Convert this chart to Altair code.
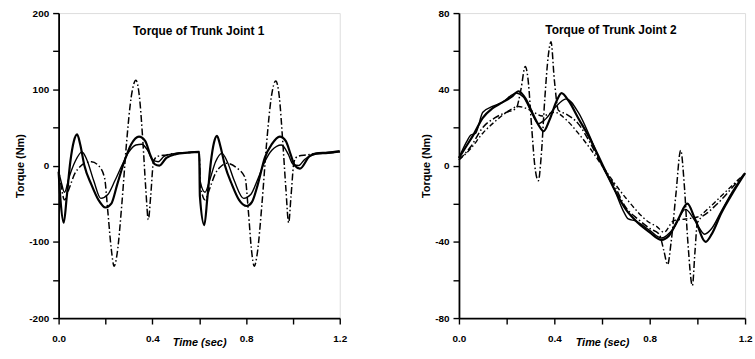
import altair as alt
import pandas as pd

FONT = "Liberation Sans"

TITLE_1 = "Torque of Trunk Joint 1"
TITLE_2 = "Torque of Trunk Joint 2"
X_TITLE = "Time (sec)"
Y_TITLE = "Torque (Nm)"

X_TICKS = [0.0, 0.2, 0.4, 0.6, 0.8, 1.0, 1.2]
Y1_TICKS = [-200, -150, -100, -50, 0, 50, 100, 150, 200]
Y2_TICKS = [-80, -60, -40, -20, 0, 20, 40, 60, 80]

# ---- Joint 1 ----
t_j1_thick = [0.0, 0.008, 0.022, 0.035, 0.05, 0.065, 0.079, 0.092, 0.11, 0.14, 0.17, 0.2, 0.225, 0.25, 0.28,
              0.31, 0.343, 0.37, 0.39, 0.41, 0.43, 0.46, 0.5, 0.55, 0.6,
              0.603, 0.622, 0.635, 0.65, 0.663, 0.676, 0.69, 0.71, 0.74, 0.77, 0.803, 0.825, 0.85, 0.88,
              0.91, 0.944, 0.97, 0.99, 1.008, 1.03, 1.07, 1.1, 1.15, 1.2]
v_j1_thick = [-8, -45, -75, -40, 5, 32, 41, 28, 0, -25, -45, -55, -50, -25, 5,
              28, 38, 32, 15, 2, 0, 10, 15, 17, 18,
              -40, -78, -42, 5, 30, 39, 26, 0, -25, -45, -53, -48, -25, 10,
              28, 38, 32, 15, 0, -4, 12, 16, 17, 19]

t_j1_thin = [0.0, 0.01, 0.025, 0.045, 0.07, 0.1, 0.12, 0.15, 0.18, 0.21, 0.24, 0.27, 0.3, 0.33, 0.355,
             0.38, 0.4, 0.425, 0.45, 0.5, 0.55, 0.6,
             0.604, 0.625, 0.645, 0.67, 0.697, 0.72, 0.75, 0.79, 0.82, 0.85, 0.88, 0.91, 0.951, 0.98,
             1.0, 1.025, 1.05, 1.1, 1.15, 1.2]
v_j1_thin = [-8, -20, -35, -15, 5, 18, 8, -20, -43, -38, -20, 0, 18, 27, 28,
             20, 8, 5, 12, 16, 17, 18,
             -20, -35, -19, 5, 16, 5, -20, -43, -38, -18, 5, 20, 27, 15,
             2, 0, 8, 15, 16, 18]

t_j1_dashdot = [0.0, 0.01, 0.025, 0.045, 0.07, 0.09, 0.11, 0.14, 0.17, 0.196, 0.21, 0.225, 0.237, 0.25, 0.27,
                0.29, 0.31, 0.33, 0.345, 0.36, 0.372, 0.383, 0.393, 0.405, 0.42, 0.46, 0.5, 0.55, 0.6,
                0.605, 0.625, 0.645, 0.67, 0.69, 0.718, 0.76, 0.796, 0.81, 0.823, 0.835, 0.848, 0.868,
                0.888, 0.908, 0.927, 0.942, 0.957, 0.97, 0.982, 0.992, 1.005, 1.02, 1.06, 1.1, 1.15, 1.2]
v_j1_dashdot = [-5, -25, -45, -30, -10, -2, 3, 5, 0, -16, -60, -110, -132, -115, -50,
                30, 90, 112, 90, 30, -30, -71, -40, 5, 12, 14, 16, 17, 18,
                -25, -45, -30, -10, -2, 3, -3, -16, -60, -110, -132, -115, -50,
                30, 90, 111, 90, 30, -30, -75, -40, 5, 12, 14, 16, 17, 18]

# ---- Joint 2 ----
t_j2_thick = [0, 0.03, 0.06, 0.1, 0.14, 0.18, 0.22, 0.25, 0.28, 0.31, 0.34, 0.355, 0.38, 0.41, 0.43, 0.46,
              0.5, 0.55, 0.6, 0.65, 0.7, 0.75, 0.8, 0.85, 0.88, 0.92, 0.958, 0.99, 1.035, 1.06, 1.1, 1.15, 1.2]
v_j2_thick = [4, 10, 16, 25, 30, 33, 36, 39, 35, 27, 20, 18, 24, 34, 38, 34,
              25, 14, 1, -12, -23, -30, -35, -39, -37, -28, -20, -28, -40, -36, -25, -14, -4]

t_j2_thin = [0, 0.03, 0.05, 0.07, 0.1, 0.14, 0.18, 0.24, 0.27, 0.3, 0.333, 0.36, 0.4, 0.45, 0.5, 0.55,
             0.6, 0.65, 0.69, 0.71, 0.74, 0.8, 0.85, 0.9, 0.95, 0.98, 1.0, 1.03, 1.06, 1.1, 1.15, 1.2]
v_j2_thin = [4, 12, 16, 17, 28, 31, 33, 38, 36, 29, 22, 24, 30, 35, 28, 15,
             0, -12, -24, -28, -29, -34, -38, -33, -23, -27, -31, -36, -33, -24, -13, -4]

t_j2_dash = [0, 0.05, 0.1, 0.15, 0.2, 0.25, 0.3, 0.35, 0.4, 0.45, 0.5, 0.55, 0.6, 0.7, 0.8, 0.83, 0.86,
             0.9, 0.95, 1.0, 1.05, 1.1, 1.15, 1.2]
v_j2_dash = [3, 9, 17, 23, 28, 31, 29, 26, 28, 24, 17, 9, 0, -17, -30, -32, -35,
             -29, -28, -27, -22, -16, -10, -4]

t_j2_dashdot = [0, 0.05, 0.1, 0.15, 0.2, 0.24, 0.26, 0.278, 0.29, 0.305, 0.318, 0.333, 0.345, 0.36, 0.375,
                0.386, 0.4, 0.417, 0.45, 0.5, 0.55, 0.6, 0.65, 0.7, 0.75, 0.8, 0.84, 0.86, 0.875, 0.89,
                0.91, 0.93, 0.945, 0.96, 0.979, 0.99, 1.0, 1.05, 1.1, 1.15, 1.2]
v_j2_dashdot = [3, 10, 20, 25, 28, 30, 40, 52, 45, 20, 0, -8, 5, 35, 58,
                65, 45, 29, 27, 22, 12, 0, -10, -22, -28, -33, -36, -45, -52, -40,
                -15, 8, -10, -40, -63, -45, -30, -24, -18, -11, -4]


def frame(t, v):
    return pd.DataFrame({"t": t, "v": v, "i": list(range(len(t)))})


def base_axis(**kw):
    return alt.Axis(
        domainColor="black", domainWidth=1.8, tickColor="black", tickWidth=1.4, tickSize=6,
        labelFont=FONT, labelFontWeight="bold", labelFontSize=10, labelColor="black",
        titleFont=FONT, titleFontWeight="bold", titleFontSize=11, titleColor="black",
        grid=False, labelFlush=False, labelOverlap=False, **kw)


def panel(series, ydom, yticks, ystep, title, w, h, tx, ty):
    x = alt.X("t:Q", scale=alt.Scale(domain=[0, 1.2], nice=False, zero=False),
              axis=base_axis(values=X_TICKS,
                             labelExpr="round(datum.value*10) % 4 == 0 ? format(datum.value, '.1f') : ''",
                             title=X_TITLE, titleFontStyle="italic", labelPadding=10,
                             titleY=19, titleBaseline="top"))
    y = alt.Y("v:Q", scale=alt.Scale(domain=ydom, nice=False, zero=False),
              axis=base_axis(values=yticks,
                             labelExpr=f"datum.value % {ystep} == 0 ? '' + datum.value : ''",
                             title=Y_TITLE, labelPadding=4, titlePadding=3))
    layers = []
    for t, v, dash, width in series:
        kw = dict(color="black", strokeWidth=width, interpolate="monotone")
        if dash:
            kw["strokeDash"] = dash
        layers.append(alt.Chart(frame(t, v)).mark_line(**kw).encode(x=x, y=y, order="i:Q"))
    txt = alt.Chart(pd.DataFrame({"s": [title]})).mark_text(
        font=FONT, fontWeight="bold", fontSize=12, color="black", align="center", baseline="middle"
    ).encode(x=alt.value(tx), y=alt.value(ty), text="s:N")
    return alt.layer(*layers, txt).properties(width=w, height=h)


left = panel([
    (t_j1_dashdot, v_j1_dashdot, [7, 2.5, 1.5, 2.5], 1.5),
    (t_j1_thin, v_j1_thin, None, 1.4),
    (t_j1_thick, v_j1_thick, None, 2.2),
], [-200, 200], Y1_TICKS, 100, TITLE_1, 283, 307, 141, 18)

right = panel([
    (t_j2_dashdot, v_j2_dashdot, [7, 2.5, 1.5, 2.5], 1.5),
    (t_j2_dash, v_j2_dash, [5, 2.5, 1.5, 2.5], 1.4),
    (t_j2_thin, v_j2_thin, None, 1.4),
    (t_j2_thick, v_j2_thick, None, 2.2),
], [-80, 80], Y2_TICKS, 40, TITLE_2, 288, 307, 153, 17)

chart = alt.hconcat(left, right, spacing=73).properties(
    padding={"left": 14, "top": 6, "right": 2, "bottom": 2}
).configure_view(stroke=None).configure(background="white")

chart.save("out.html", embed_options={"renderer": "svg", "actions": False})
